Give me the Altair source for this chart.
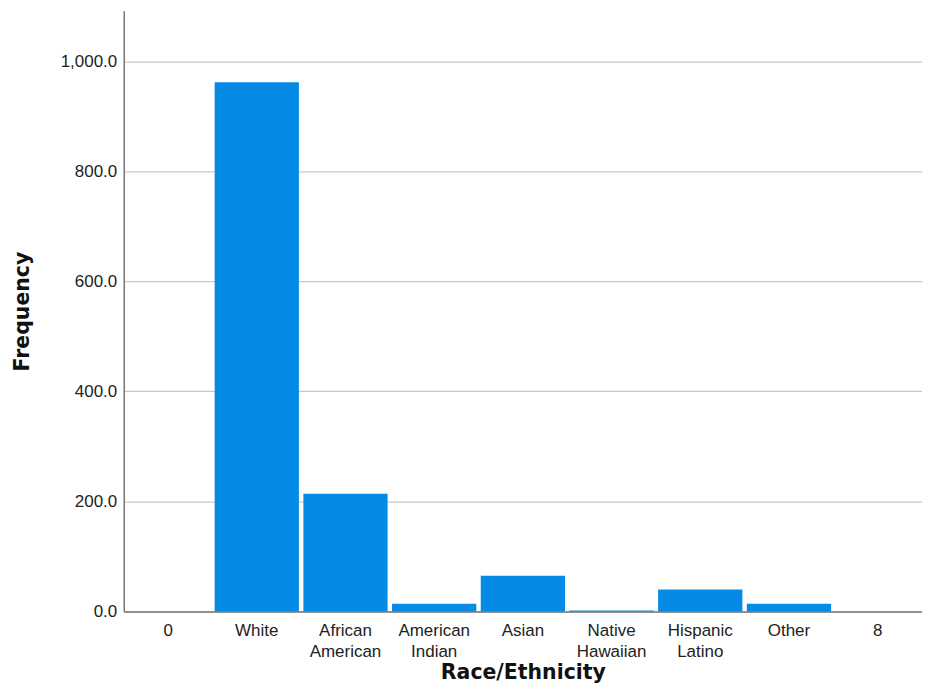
import altair as alt
import pandas as pd

categories = ["0", "White", "African American", "American Indian", "Asian",
              "Native Hawaiian", "Hispanic Latino", "Other", "8"]
frequency = [0, 962, 214, 14, 65, 1.5, 40, 14, 0]
y_ticks = [0, 200, 400, 600, 800, 1000]

df = pd.DataFrame({"cat": categories, "freq": frequency})

chart = alt.Chart(df).mark_bar(color="#058BE6").encode(
    x=alt.X("cat:N", sort=categories,
            scale=alt.Scale(paddingInner=0.05, paddingOuter=0.025),
            axis=alt.Axis(title="Race/Ethnicity", labelAngle=0,
                          labelExpr="split(datum.value, ' ')",
                          labelFont="Liberation Sans", labelFontSize=17,
                          labelColor="#222222", labelPadding=11, labelLineHeight=21,
                          ticks=False, domainColor="#777777", domainWidth=1.5,
                          titleFont="DejaVu Sans", titleFontSize=20.5, titleFontWeight="bold",
                          titleColor="#111111", titlePadding=3, grid=False)),
    y=alt.Y("freq:Q",
            scale=alt.Scale(domain=[0, 1092], nice=False),
            axis=alt.Axis(title="Frequency", values=y_ticks, format=",.1f",
                          labelFont="Liberation Sans", labelFontSize=17,
                          labelColor="#222222", labelPadding=7, ticks=False,
                          domainColor="#777777", domainWidth=1.5,
                          gridColor="#c8c8c8", gridWidth=1.2,
                          titleFont="DejaVu Sans", titleFontSize=20.5, titleFontWeight="bold",
                          titleColor="#111111", titlePadding=28)),
).properties(
    width=800, height=602,
    autosize=alt.AutoSizeParams(type="none"),
    padding={"left": 116, "top": 2, "right": 0, "bottom": 74},
).configure_view(stroke=None)

chart.save("out.html", embed_options={"renderer": "svg", "actions": False})
